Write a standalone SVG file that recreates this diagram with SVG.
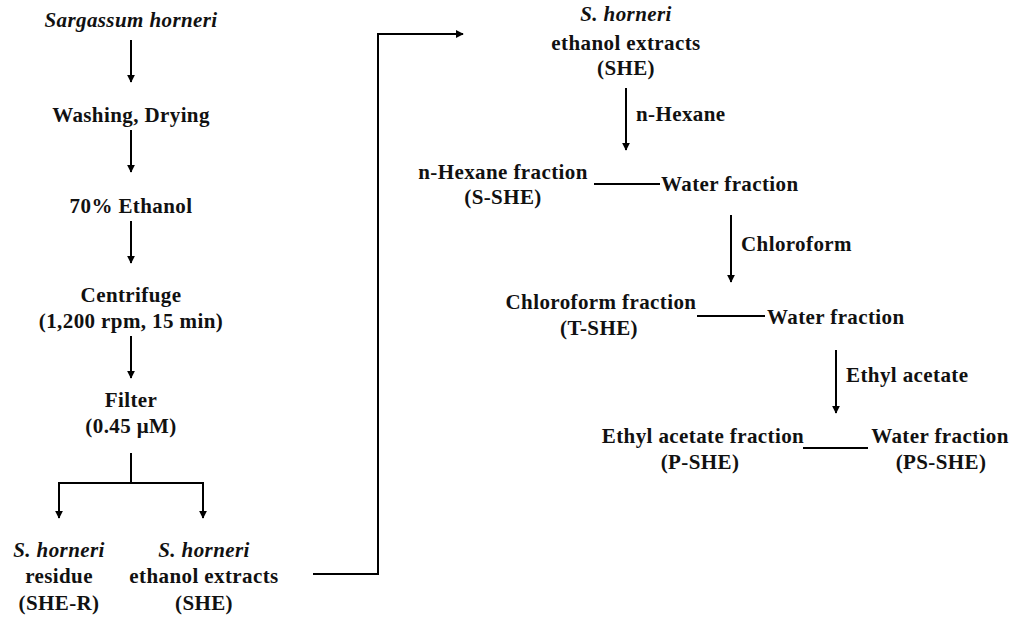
<svg xmlns="http://www.w3.org/2000/svg" width="1022" height="622" viewBox="0 0 1022 622">
<defs>
<marker id="ah" viewBox="0 0 10 10" refX="9" refY="5" markerWidth="4" markerHeight="4" markerUnits="strokeWidth" orient="auto">
<path d="M0,0 L10,5 L0,10 Z" fill="#000"/>
</marker>
<style>
text{font-family:"Liberation Serif","Times New Roman",serif;font-weight:bold;font-size:21px;fill:#111;text-anchor:middle;letter-spacing:0.4px}
.i{font-style:italic}
.l{text-anchor:start}
.c{fill:none;stroke:#000;stroke-width:2}
.a{marker-end:url(#ah)}
</style>
</defs>
<rect width="1022" height="622" fill="#fff"/>
<g id="connectors">
<line class="c a" x1="131" y1="40" x2="131" y2="82"/>
<line class="c a" x1="131" y1="130" x2="131" y2="172"/>
<line class="c a" x1="131" y1="221" x2="131" y2="263"/>
<line class="c a" x1="131" y1="336" x2="131" y2="378"/>
<polyline class="c" points="131,453 131,483"/>
<polyline class="c a" points="131,483 59,483 59,518"/>
<polyline class="c a" points="131,483 203,483 203,518"/>
<polyline class="c a" points="313,574 378,574 378,34 463,34"/>
<line class="c a" x1="626" y1="88" x2="626" y2="150"/>
<line class="c" x1="594" y1="184" x2="660" y2="184"/>
<line class="c a" x1="731" y1="215" x2="731" y2="282"/>
<line class="c" x1="697" y1="316" x2="765" y2="316"/>
<line class="c a" x1="836" y1="350" x2="836" y2="413"/>
<line class="c" x1="803" y1="448" x2="868" y2="448"/>
</g>
<g id="n1"><text class="i" x="131" y="27">Sargassum horneri</text></g>
<g id="n2"><text x="131" y="122">Washing, Drying</text></g>
<g id="n3"><text x="131" y="213">70% Ethanol</text></g>
<g id="n4"><text x="131" y="302">Centrifuge</text><text x="131" y="328">(1,200 rpm, 15 min)</text></g>
<g id="n5"><text x="131" y="407">Filter</text><text x="131" y="433">(0.45 μM)</text></g>
<g id="n6"><text class="i" x="59" y="557">S. horneri</text><text x="59" y="583">residue</text><text x="59" y="610">(SHE-R)</text></g>
<g id="n7"><text class="i" x="204" y="557">S. horneri</text><text x="204" y="583">ethanol extracts</text><text x="204" y="610">(SHE)</text></g>
<g id="n8"><text class="i" x="626" y="21">S. horneri</text><text x="626" y="50">ethanol extracts</text><text x="626" y="75">(SHE)</text></g>
<g id="l1"><text class="l" x="636" y="121">n-Hexane</text></g>
<g id="n9"><text x="503" y="179">n-Hexane fraction</text><text x="503" y="204">(S-SHE)</text></g>
<g id="n10"><text class="l" x="661" y="191">Water fraction</text></g>
<g id="l2"><text class="l" x="741" y="251">Chloroform</text></g>
<g id="n11"><text x="601" y="309">Chloroform fraction</text><text x="599" y="335">(T-SHE)</text></g>
<g id="n12"><text class="l" x="767" y="324">Water fraction</text></g>
<g id="l3"><text class="l" x="846" y="382">Ethyl acetate</text></g>
<g id="n13"><text x="703" y="443">Ethyl acetate fraction</text><text x="700" y="469">(P-SHE)</text></g>
<g id="n14"><text x="940" y="443">Water fraction</text><text x="941" y="469">(PS-SHE)</text></g>
</svg>
